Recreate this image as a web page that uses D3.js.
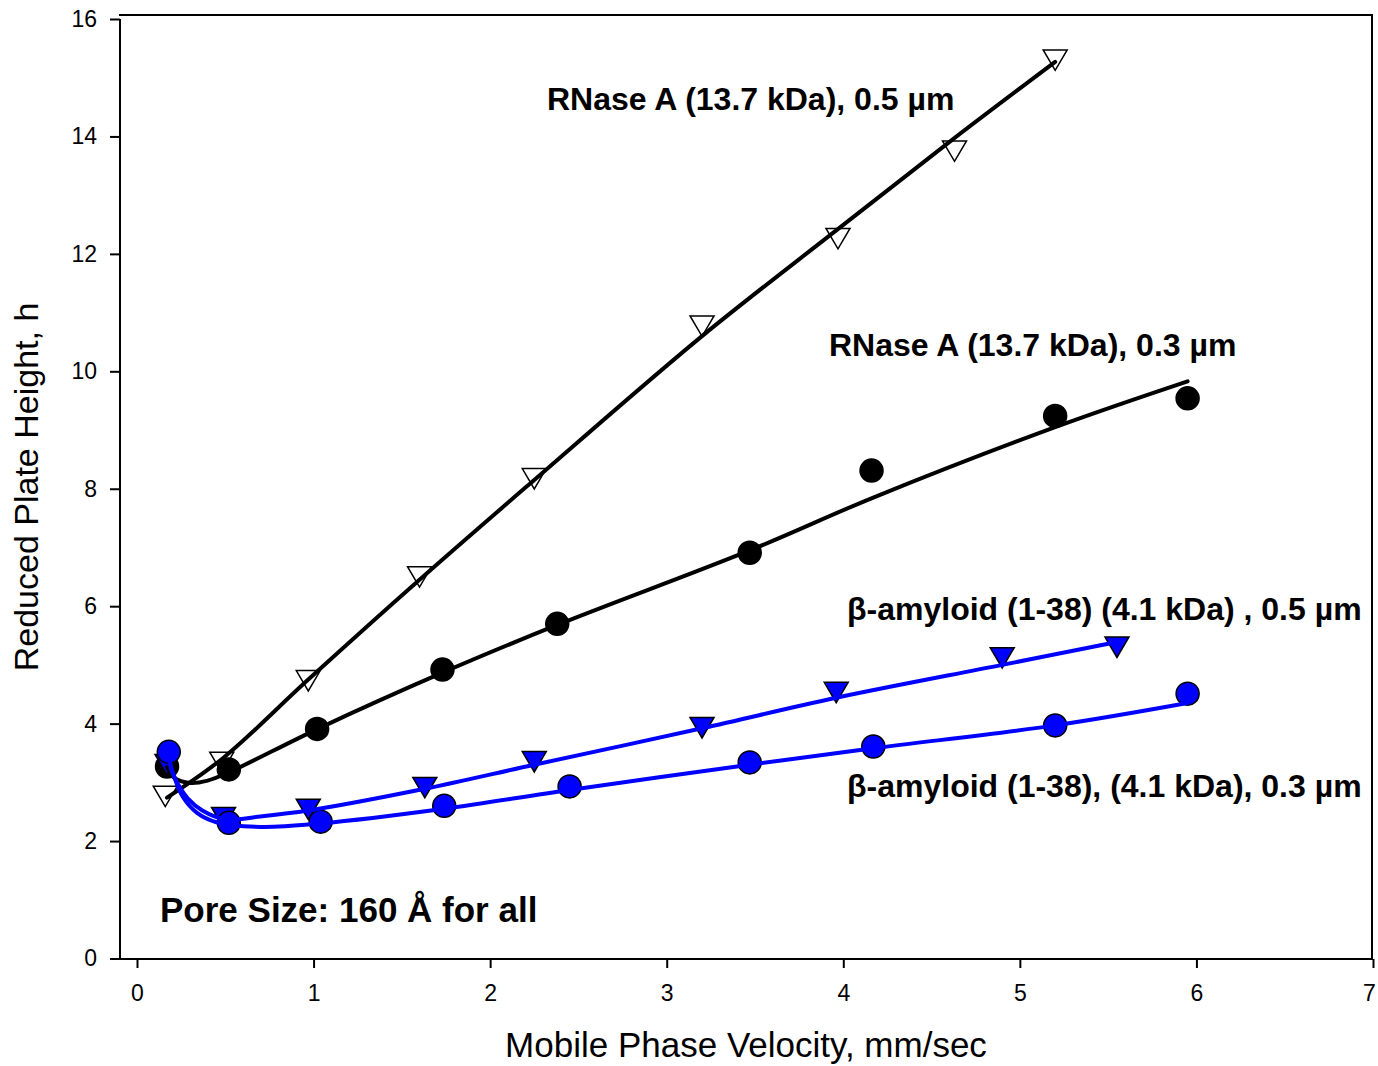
<!DOCTYPE html>
<html>
<head>
<meta charset="utf-8">
<script src="https://cdn.jsdelivr.net/npm/d3@7"></script>
<style>
  body { margin: 0; background: #fff; }
  svg { display: block; }
  text { font-family: "Liberation Sans", Arial, Helvetica, sans-serif; fill: #000; }
</style>
</head>
<body>
<svg id="chart" width="1378" height="1066"></svg>
<script>
// ---- axis ticks ----
const xTicks = [0, 1, 2, 3, 4, 5, 6, 7];
const yTicks = [0, 2, 4, 6, 8, 10, 12, 14, 16];

// ---- measured points: velocity (mm/sec) and reduced plate height h ----
const velRnase05 = [0.16, 0.48, 0.97, 1.60, 2.25, 3.20, 3.97, 4.63, 5.20];
const hRnase05   = [2.76, 3.34, 4.73, 6.50, 8.17, 10.77, 12.26, 13.75, 15.30];

const velRnase03 = [0.17, 0.52, 1.02, 1.73, 2.38, 3.47, 4.16, 5.20, 5.95];
const hRnase03   = [3.27, 3.22, 3.91, 4.92, 5.70, 6.91, 8.31, 9.24, 9.54];

const velAmy05 = [0.17, 0.49, 0.97, 1.63, 2.25, 3.20, 3.96, 4.90, 5.55];
const hAmy05   = [3.30, 2.40, 2.54, 2.91, 3.35, 3.93, 4.53, 5.12, 5.30];

const velAmy03 = [0.18, 0.52, 1.04, 1.74, 2.45, 3.47, 4.17, 5.20, 5.95];
const hAmy03   = [3.52, 2.31, 2.33, 2.60, 2.93, 3.34, 3.61, 3.97, 4.51];

// ---- fitted curves (plate height vs. velocity) ----
const fitVelRnase05 = [0.17, 0.49, 0.97, 1.60, 2.25, 3.20, 3.96, 4.62, 5.20];
const fitHRnase05   = [2.74, 3.42, 4.75, 6.45, 8.15, 10.60, 12.40, 13.95, 15.27];

const fitVelRnase03 = [0.17, 0.21, 0.30, 0.40, 0.52, 1.03, 1.74, 2.38, 3.47, 4.17, 5.20, 5.95];
const fitHRnase03   = [3.26, 3.08, 2.99, 3.03, 3.17, 3.92, 4.88, 5.68, 6.95, 7.85, 9.05, 9.83];

const fitVelAmy05 = [0.19, 0.23, 0.29, 0.37, 0.50, 0.70, 0.97, 1.63, 2.25, 3.20, 3.96, 4.90, 5.55];
const fitHAmy05   = [3.25, 2.98, 2.72, 2.52, 2.37, 2.42, 2.52, 2.89, 3.30, 3.92, 4.44, 5.00, 5.39];

const fitVelAmy03 = [0.18, 0.21, 0.26, 0.34, 0.45, 0.70, 1.04, 1.74, 2.45, 3.47, 4.17, 5.20, 5.95];
const fitHAmy03   = [3.40, 3.10, 2.75, 2.48, 2.32, 2.24, 2.30, 2.55, 2.87, 3.30, 3.58, 3.97, 4.35];

// ---- text ----
const xTitle = "Mobile Phase Velocity, mm/sec";
const yTitle = "Reduced Plate Height, h";
const labelRnase05 = "RNase A (13.7 kDa), 0.5 µm";
const labelRnase03 = "RNase A (13.7 kDa), 0.3 µm";
const labelAmy05 = "β-amyloid (1-38) (4.1 kDa) , 0.5 µm";
const labelAmy03 = "β-amyloid (1-38), (4.1 kDa), 0.3 µm";
const noteText = "Pore Size: 160 Å for all";

const svg = d3.select("#chart");

const x = d3.scaleLinear().domain([0, 7]).range([137, 1373]);
const y = d3.scaleLinear().domain([0, 16]).range([958.5, 19]);

const plotLeft = 120, plotRight = 1372, plotTop = 15, plotBottom = 959;

// frame and axis lines
const frame = svg.append("g").attr("stroke", "#000").attr("stroke-width", 2).attr("fill", "none");
frame.append("line").attr("x1", plotLeft).attr("x2", plotLeft).attr("y1", y(16)).attr("y2", plotBottom);
frame.append("line").attr("x1", 110).attr("x2", 1373).attr("y1", plotBottom).attr("y2", plotBottom);
frame.append("line").attr("x1", plotLeft - 1).attr("x2", 1373).attr("y1", plotTop).attr("y2", plotTop);
frame.append("line").attr("x1", plotRight).attr("x2", plotRight).attr("y1", plotTop).attr("y2", plotBottom);

// x axis
const xAxis = svg.append("g")
  .attr("transform", `translate(0,${plotBottom})`)
  .call(d3.axisBottom(x).tickValues(xTicks).tickFormat(d3.format("d")).tickSize(9).tickPadding(17));
xAxis.select(".domain").remove();
xAxis.selectAll(".tick line").attr("stroke", "#000").attr("stroke-width", 2);
xAxis.selectAll(".tick text")
  .attr("font-size", 23)
  .attr("font-family", '"Liberation Sans", Arial, sans-serif')
  .attr("dx", d => d === 7 ? -4 : 0);

// y axis
const yAxis = svg.append("g")
  .attr("transform", `translate(${plotLeft},0)`)
  .call(d3.axisLeft(y).tickValues(yTicks).tickFormat(d3.format("d")).tickSize(10).tickPadding(13));
yAxis.select(".domain").remove();
yAxis.selectAll(".tick line").attr("stroke", "#000").attr("stroke-width", 2);
yAxis.selectAll(".tick text").attr("font-size", 23).attr("font-family", '"Liberation Sans", Arial, sans-serif');

// axis titles
svg.append("text")
  .attr("x", 746).attr("y", 1057)
  .attr("text-anchor", "middle")
  .attr("font-size", 35)
  .text(xTitle);

svg.append("text")
  .attr("transform", "translate(38,487) rotate(-90)")
  .attr("text-anchor", "middle")
  .attr("font-size", 34)
  .text(yTitle);

// marker shapes
const downTriangle = {
  draw(ctx, size) {
    const w = Math.sqrt(size);
    const h = w * 0.85;
    ctx.moveTo(-w / 2, -h / 2);
    ctx.lineTo(w / 2, -h / 2);
    ctx.lineTo(0, h / 2);
    ctx.closePath();
  }
};
const triPath = d3.symbol().type(downTriangle).size(24 * 24)();

const zip = (vx, vy) => vx.map((v, i) => [v, vy[i]]);

const line = d3.line()
  .x(d => x(d[0]))
  .y(d => y(d[1]))
  .curve(d3.curveCatmullRom.alpha(0.5));

const series = [
  { pts: zip(velRnase05, hRnase05), fit: zip(fitVelRnase05, fitHRnase05), color: "#000", marker: "tri", fill: "#fff" },
  { pts: zip(velRnase03, hRnase03), fit: zip(fitVelRnase03, fitHRnase03), color: "#000", marker: "circle", fill: "#000" },
  { pts: zip(velAmy05, hAmy05), fit: zip(fitVelAmy05, fitHAmy05), color: "#0000ff", marker: "tri", fill: "#0000ff" },
  { pts: zip(velAmy03, hAmy03), fit: zip(fitVelAmy03, fitHAmy03), color: "#0000ff", marker: "circle", fill: "#0000ff" }
];

// markers
series.forEach(s => {
  const g = svg.append("g");
  if (s.marker === "circle") {
    g.selectAll("circle").data(s.pts).join("circle")
      .attr("cx", d => x(d[0])).attr("cy", d => y(d[1]))
      .attr("r", 11.5)
      .attr("fill", s.fill)
      .attr("stroke", "#000").attr("stroke-width", 1.5);
  } else {
    g.selectAll("path").data(s.pts).join("path")
      .attr("transform", d => `translate(${x(d[0])},${y(d[1])})`)
      .attr("d", triPath)
      .attr("fill", s.fill)
      .attr("stroke", "#000").attr("stroke-width", 1.5);
  }
});

// fitted curves
series.forEach(s => {
  svg.append("path")
    .datum(s.fit)
    .attr("d", line)
    .attr("fill", "none")
    .attr("stroke", s.color)
    .attr("stroke-width", 4)
    .attr("stroke-linecap", "round");
});

// series labels
const labels = [
  { t: labelRnase05, x: 547, y: 110, size: 32 },
  { t: labelRnase03, x: 829, y: 356, size: 32 },
  { t: labelAmy05, x: 847, y: 620, size: 32 },
  { t: labelAmy03, x: 847, y: 797, size: 32 },
  { t: noteText, x: 160, y: 922, size: 35 }
];
svg.append("g").selectAll("text").data(labels).join("text")
  .attr("x", d => d.x).attr("y", d => d.y)
  .attr("font-size", d => d.size)
  .attr("font-weight", "bold")
  .text(d => d.t);
</script>
</body>
</html>
